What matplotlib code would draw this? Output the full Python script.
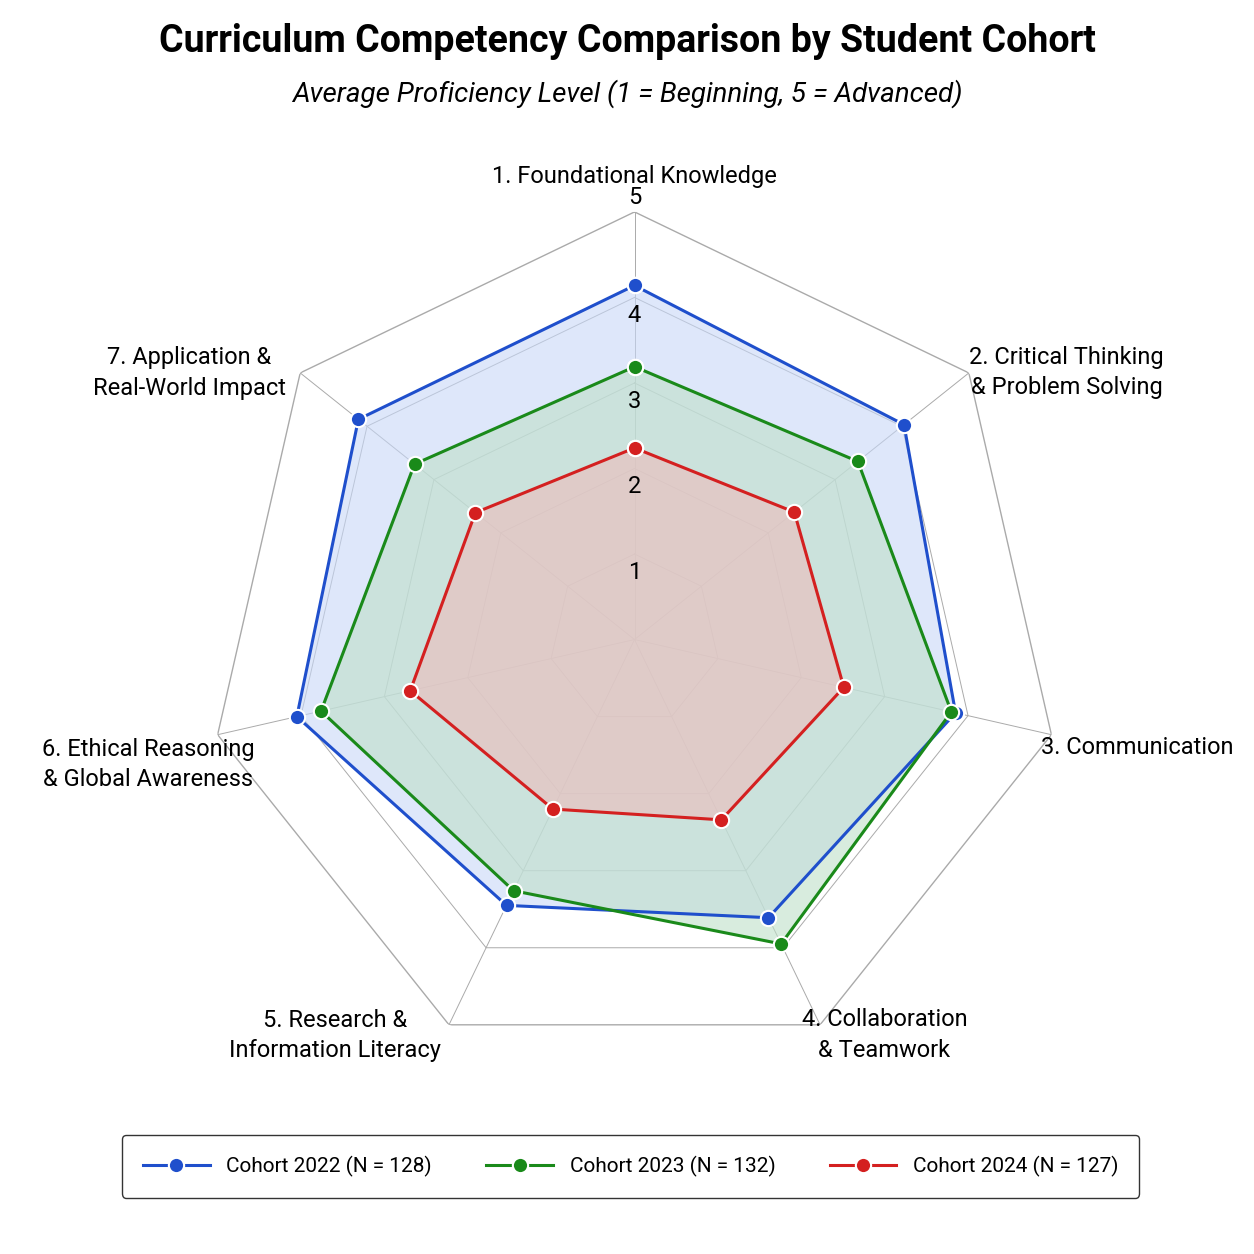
import numpy as np
import matplotlib.pyplot as plt

categories = ["1. Foundational Knowledge", "2. Critical Thinking\n& Problem Solving", "3. Communication",
              "4. Collaboration\n& Teamwork", "5. Research &\nInformation Literacy",
              "6. Ethical Reasoning\n& Global Awareness", "7. Application &\nReal-World Impact"]
cohort_2022 = [4.14, 4.03, 3.85, 3.61, 3.45, 4.05, 4.13]
cohort_2023 = [3.19, 3.34, 3.80, 3.95, 3.26, 3.76, 3.29]
cohort_2024 = [2.24, 2.39, 2.51, 2.34, 2.20, 2.69, 2.38]
series_labels = ["Cohort 2022 (N = 128)", "Cohort 2023 (N = 132)", "Cohort 2024 (N = 127)"]
ring_ticks = [1, 2, 3, 4, 5]

plt.rcParams['font.family'] = ['Roboto', 'DejaVu Sans']
fig = plt.figure(figsize=(12.54, 12.54), dpi=100)
ax = fig.add_axes([0.165, 0.149, 0.682, 0.682], projection='polar')
ax.set_theta_offset(np.pi / 2)
ax.set_theta_direction(-1)
n = len(categories)
ang = np.arange(n) * 2 * np.pi / n
angc = np.append(ang, ang[0])
ax.set_ylim(0, 5)
ax.grid(False)
ax.spines['polar'].set_visible(False)
ax.set_yticks([])
ax.set_xticks([])
for r in ring_ticks:
    ax.plot(angc, [r] * (n + 1), color='#aaaaaa', lw=1.0 if r == 5 else 0.7, zorder=1)
for a in ang:
    ax.plot([a, a], [0, 5], color='#aaaaaa', lw=0.7, zorder=1)
for r in ring_ticks:
    ax.text(0, r - 0.35 if r < 5 else r + 0.03, str(r), ha='center', va='bottom', fontsize=17, zorder=5)

cols = ['#1f4fcc', '#1a8a1a', '#d42020']
fills = ['#c8d8f8', '#bfe0c8', '#eebcbc']
for vals, c, f, lab in zip([cohort_2022, cohort_2023, cohort_2024], cols, fills, series_labels):
    v = np.append(vals, vals[0])
    ax.fill(angc, v, color=f, alpha=0.6, zorder=2)
    ax.plot(angc, v, color=c, lw=2.2, marker='o', ms=11, mec='white', mew=1.5, label=lab, zorder=3)

label_theta = np.deg2rad([0, 58.3, 102.1, 147.7, 217.1, 255.6, 300.9])
label_r = [5.41, 5.94, 6.01, 5.47, 5.80, 5.87, 6.07]
for a, t, r in zip(label_theta, categories, label_r):
    ax.text(a, r, t, ha='center', va='center', fontsize=17, linespacing=1.4)

fig.text(0.5, 0.967, "Curriculum Competency Comparison by Student Cohort", ha='center', va='center',
         fontsize=27, fontweight='bold')
fig.text(0.5, 0.925, "Average Proficiency Level (1 = Beginning, 5 = Advanced)", ha='center', va='center',
         fontsize=20, style='italic')
fig.legend(loc='center', bbox_to_anchor=(0.503, 0.07), ncol=3, fontsize=15, frameon=True,
           edgecolor='black', fancybox=True, borderpad=1.0, columnspacing=2.6, handlelength=3.2)
fig.savefig('out.png', dpi=100, facecolor='white')
